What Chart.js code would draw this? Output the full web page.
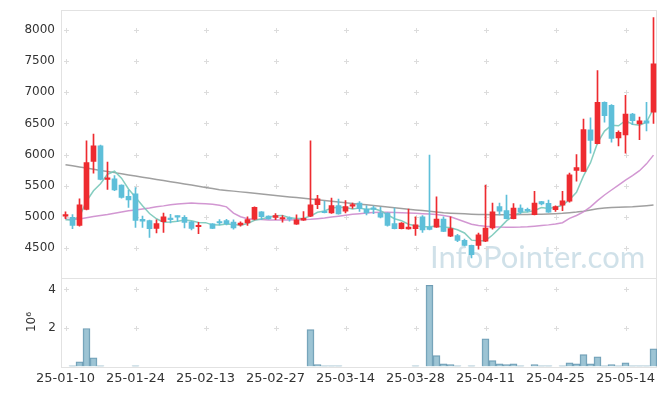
<!DOCTYPE html>
<html>
<head>
<meta charset="utf-8">
<script src="https://cdn.jsdelivr.net/npm/chart.js@4.4.1/dist/chart.umd.min.js"></script>
<style>
html, body { margin: 0; padding: 0; background: #fff; }
</style>
</head>
<body>
<canvas id="stockChart" width="665" height="396"></canvas>
<script>
// trading days (yy-mm-dd)
const dates = [
  '25-01-10','25-01-13','25-01-14','25-01-15','25-01-16','25-01-17','25-01-20','25-01-21','25-01-22','25-01-23',
  '25-01-24','25-01-31','25-02-03','25-02-04','25-02-05','25-02-06','25-02-07','25-02-10','25-02-11','25-02-12',
  '25-02-13','25-02-14','25-02-17','25-02-18','25-02-19','25-02-20','25-02-21','25-02-24','25-02-25','25-02-26',
  '25-02-27','25-02-28','25-03-04','25-03-05','25-03-06','25-03-07','25-03-10','25-03-11','25-03-12','25-03-13',
  '25-03-14','25-03-17','25-03-18','25-03-19','25-03-20','25-03-21','25-03-24','25-03-25','25-03-26','25-03-27',
  '25-03-28','25-03-31','25-04-01','25-04-02','25-04-03','25-04-04','25-04-07','25-04-08','25-04-09','25-04-10',
  '25-04-11','25-04-14','25-04-15','25-04-16','25-04-17','25-04-18','25-04-21','25-04-22','25-04-23','25-04-24',
  '25-04-25','25-04-28','25-04-29','25-04-30','25-05-02','25-05-07','25-05-08','25-05-09','25-05-12','25-05-13',
  '25-05-14','25-05-15','25-05-16','25-05-19','25-05-20'
];

const opens = [
  5010,4990,4860,5120,5890,6140,5600,5610,5510,5330,
  5370,4960,4940,4815,4920,4975,5010,4990,4920,4840,
  null,4885,4920,4940,4915,4870,4900,4960,5080,5010,
  4990,4965,4970,4880,4945,5010,5195,5080,5060,5180,
  5090,5170,5220,5125,5130,5060,5060,4890,4810,4805,
  4810,5000,4835,4835,4965,4690,4700,4620,4540,4540,
  4610,4820,5165,5100,4970,5140,5115,5035,5245,5215,
  5115,5185,5250,5745,5730,6395,6175,6840,6790,6265,
  6315,6650,6490,6540,6680
];
const highs = [
  5080,5035,5290,6220,6330,6150,5880,5660,5515,5430,
  5470,5010,4945,4950,5060,5040,5015,5020,4925,4910,
  null,4890,4955,4960,4950,4920,5000,5160,5085,5015,
  5050,5020,5000,5030,5085,6220,5345,5250,5300,5285,
  5260,5220,5245,5180,5170,5150,5065,5140,4905,5125,
  5000,5020,5990,5320,5000,5000,4720,4640,4545,4740,
  5510,5220,5220,5350,5210,5190,5140,5410,5250,5270,
  5175,5410,5700,6000,6570,6590,7350,6845,6800,6380,
  6950,6660,6600,6840,8200
];
const lows = [
  4970,4810,4850,5110,5700,5590,5440,5420,5300,5150,
  4830,4830,4670,4740,4750,4900,4920,4820,4790,4730,
  null,4810,4870,4870,4800,4850,4860,4950,4955,4960,
  4955,4915,4930,4878,4940,5000,5130,5060,5055,5040,
  5060,5135,5085,5030,5050,4980,4850,4805,4805,4800,
  4700,4750,4790,4830,4760,4680,4600,4530,4340,4480,
  4600,4800,5030,4965,4965,5050,5080,5030,5190,5070,
  5085,5100,5235,5570,5730,6020,6170,6520,6200,6140,
  6020,6480,6240,6380,6500
];
const closes = [
  5030,4860,5190,5870,6140,5600,5620,5430,5310,5270,
  4940,4930,4810,4890,5000,4955,4995,4910,4815,4858,
  null,4815,4900,4890,4820,4900,4955,5150,5000,4965,
  5018,4975,4960,4950,4975,5190,5290,5065,5180,5045,
  5165,5180,5130,5060,5120,4995,4860,4810,4900,4835,
  4870,4790,4795,4965,4765,4810,4620,4540,4390,4710,
  4820,5080,5090,4970,5140,5080,5095,5220,5205,5075,
  5165,5255,5675,5790,6400,6225,6840,6625,6260,6355,
  6650,6545,6540,6505,7455
];

const volumes = [
  0,30000,240000,1970000,450000,30000,0,0,0,0,
  30000,0,0,0,0,0,0,0,0,0,
  0,0,0,0,0,0,0,0,0,0,
  0,0,0,0,0,1910000,90000,30000,30000,30000,
  0,0,0,0,0,0,0,0,0,0,
  30000,0,4220000,560000,140000,90000,30000,0,30000,0,
  1440000,300000,140000,90000,140000,30000,0,90000,30000,30000,
  0,30000,190000,140000,610000,140000,500000,30000,90000,30000,
  190000,30000,30000,30000,920000
];

// moving averages
const ma5 = [
  4954,4950,5000,5250,5418,5532,5684,5732,5620,5446,
  5314,5176,5052,4968,4914,4917,4930,4950,4935,4907,
  4906,4870,4868,4883,4875,4865,4893,4943,4965,4994,
  5018,5022,4984,4974,4976,5010,5073,5094,5140,5154,
  5149,5127,5140,5116,5131,5097,5033,4969,4937,4880,
  4855,4841,4838,4851,4837,4825,4791,4740,4625,4614,
  4616,4708,4818,4934,5020,5072,5075,5101,5148,5135,
  5152,5184,5275,5392,5657,5869,6186,6376,6470,6461,
  6546,6487,6470,6519,6739
];
const ma20 = [
  4960,4955,4965,4985,5005,5020,5035,5055,5075,5095,
  5110,5125,5140,5160,5175,5195,5205,5215,5220,5215,
  5210,5200,5185,5160,5060,5000,4970,4960,4955,4950,
  4950,4950,4950,4952,4955,4960,4970,4980,4995,5010,
  5025,5040,5050,5060,5068,5072,5072,5070,5065,5060,
  5055,5050,5045,5035,5020,5000,4960,4920,4880,4860,
  4848,4840,4835,4833,4833,4835,4840,4848,4858,4870,
  4885,4905,4975,5020,5080,5160,5260,5350,5430,5510,
  5590,5660,5740,5850,5990
];
const ma120 = [
  5835,5818,5800,5782,5764,5745,5727,5709,5690,5672,
  5654,5636,5618,5600,5582,5564,5545,5527,5509,5490,
  5472,5454,5435,5424,5412,5400,5389,5377,5366,5354,
  5342,5331,5319,5308,5296,5284,5273,5261,5250,5238,
  5226,5215,5203,5192,5180,5168,5157,5145,5134,5122,
  5110,5099,5087,5076,5064,5058,5052,5047,5042,5038,
  5035,5033,5032,5032,5033,5035,5037,5040,5042,5045,
  5050,5056,5065,5075,5090,5110,5130,5140,5148,5152,
  5156,5160,5168,5178,5190
];

const priceTicks = [4500, 5000, 5500, 6000, 6500, 7000, 7500, 8000];
const volTicks = [2, 4];      // millions
const volMax = 4.62;          // millions

const UP = '#ee2b30';
const DOWN = '#5ebfd9';
const candleColors = opens.map((o, i) => (closes[i] >= o ? UP : DOWN));

const panelDecor = {
  id: 'panelDecor',
  beforeDatasetsDraw(chart) {
    const { ctx, chartArea, scales } = chart;
    ctx.save();
    // watermark
    ctx.fillStyle = 'rgba(170, 200, 215, 0.55)';
    ctx.font = '31px Lato';
    ctx.textBaseline = 'alphabetic';
    ctx.fillText('InfoPointer.com', 430, 268, 218);
    // frames
    ctx.strokeStyle = '#e2e2e2';
    ctx.lineWidth = 1;
    [scales.y, scales.vol].forEach(s => {
      ctx.strokeRect(Math.round(chartArea.left) - 0.5, Math.round(s.top) + 0.5,
        Math.round(chartArea.right - chartArea.left), Math.round(s.bottom - s.top));
    });
    // grid crosses
    ctx.strokeStyle = '#dcdcdc';
    const rows = [[scales.y, priceTicks, 1], [scales.vol, volTicks, 1e6]];
    for (let i = 0; i < dates.length; i += 10) {
      const px = Math.round(scales.x.getPixelForValue(i)) + 0.5;
      rows.forEach(([s, vals, k]) => {
        vals.forEach(v => {
          const py = Math.round(s.getPixelForValue(v * k)) + 0.5;
          ctx.beginPath();
          ctx.moveTo(px - 2.5, py); ctx.lineTo(px + 2.5, py);
          ctx.moveTo(px, py - 2.5); ctx.lineTo(px, py + 2.5);
          ctx.stroke();
        });
      });
    }
    ctx.restore();
  },
  afterDraw(chart) {
    // axis tick labels
    const { ctx, scales } = chart;
    const vol = scales.vol;
    ctx.save();
    ctx.fillStyle = '#333';
    ctx.font = '12px "DejaVu Sans"';
    ctx.textAlign = 'right';
    ctx.textBaseline = 'middle';
    priceTicks.forEach(v => ctx.fillText(String(v), 55, scales.y.getPixelForValue(v)));
    volTicks.forEach(v => ctx.fillText(String(v), 56, vol.getPixelForValue(v * 1e6)));
    // exponent title of the volume axis
    const mid = (vol.top + vol.bottom) / 2;
    ctx.translate(32, mid);
    ctx.rotate(-Math.PI / 2);
    ctx.textAlign = 'center';
    ctx.fillText('10⁶', 0, 0);
    ctx.restore();
  }
};

const ctx = document.getElementById('stockChart').getContext('2d');

const stockChart = new Chart(ctx, {
  type: 'bar',
  data: {
    labels: dates,
    datasets: [
      {
        type: 'line', label: 'MA5', data: ma5, yAxisID: 'y',
        borderColor: 'rgba(120, 200, 185, 0.9)', borderWidth: 1.5, pointRadius: 0, order: 3
      },
      {
        type: 'line', label: 'MA20', data: ma20, yAxisID: 'y',
        borderColor: 'rgba(205, 140, 205, 0.9)', borderWidth: 1.5, pointRadius: 0, order: 3
      },
      {
        type: 'line', label: 'MA120', data: ma120, yAxisID: 'y',
        borderColor: 'rgba(150, 150, 150, 0.9)', borderWidth: 1.5, pointRadius: 0, order: 3
      },
      {
        label: 'wick', yAxisID: 'y', grouped: false, order: 2,
        data: lows.map((l, i) => (l == null ? null : [l, highs[i]])),
        backgroundColor: candleColors, barThickness: 1
      },
      {
        label: 'body', yAxisID: 'y', grouped: false, order: 1,
        data: opens.map((o, i) => (o == null ? null : [o, closes[i]])),
        backgroundColor: candleColors, barThickness: 5, minBarLength: 1.5
      },
      {
        label: 'volume', yAxisID: 'vol', grouped: false, order: 1,
        data: volumes,
        backgroundColor: 'rgba(140, 186, 205, 0.85)',
        borderColor: 'rgba(95, 145, 172, 0.9)', borderWidth: 1,
        categoryPercentage: 1, barPercentage: 1
      }
    ]
  },
  plugins: [panelDecor],
  options: {
    responsive: false,
    animation: false,
    layout: { padding: { top: 10, right: 8, bottom: 6, left: 0 } },
    plugins: { legend: { display: false }, tooltip: { enabled: false } },
    scales: {
      x: {
        type: 'category', offset: true,
        grid: { display: false, drawTicks: false }, border: { display: false },
        ticks: {
          autoSkip: false, maxRotation: 0, padding: 4, color: '#333',
          font: { family: 'DejaVu Sans', size: 13 },
          callback(v, i) { return i % 10 === 0 ? dates[i] : null; }
        }
      },
      vol: {
        type: 'linear', position: 'left', stack: 'panels', stackWeight: 89,
        min: 0, max: volMax * 1e6,
        grid: { display: false, drawTicks: false }, border: { display: false },
        ticks: { display: false },
        afterFit: s => { s.width = 62; }
      },
      y: {
        type: 'linear', position: 'left', stack: 'panels', stackWeight: 268,
        min: 4024, max: 8321,
        grid: { display: false, drawTicks: false }, border: { display: false },
        ticks: { display: false },
        afterFit: s => { s.width = 62; }
      }
    }
  }
});
</script>
</body>
</html>
